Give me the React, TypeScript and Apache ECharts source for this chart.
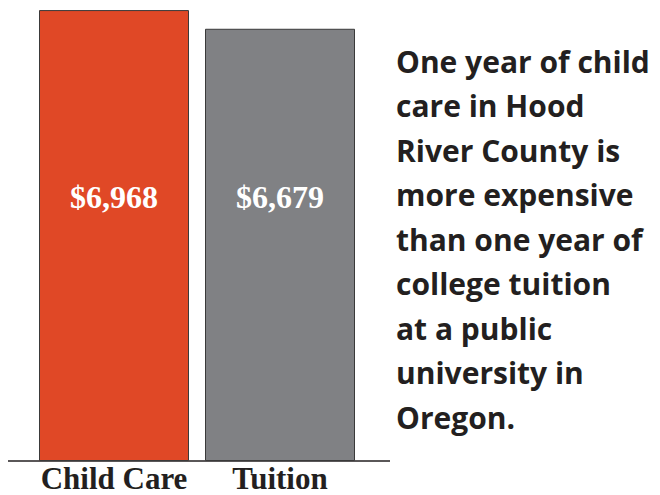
import React, { useEffect, useRef } from "react";
import * as echarts from "echarts";

const categories = ["Child Care", "Tuition"];
const values = [6968, 6679];
const valueLabels = ["$6,968", "$6,679"];
const barColors = ["#E04826", "#808184"];
const noteLines = [
  "One year of child",
  "care in Hood",
  "River County is",
  "more expensive",
  "than one year of",
  "college tuition",
  "at a public",
  "university in",
  "Oregon.",
];

export default function App() {
  const ref = useRef<HTMLDivElement>(null);
  useEffect(() => {
    const chart = echarts.init(ref.current!, undefined, { renderer: "svg" });
    chart.setOption({
      animation: false,
      grid: { left: 31, right: 297, top: 8, bottom: 34 },
      xAxis: {
        type: "category",
        data: categories,
        axisLine: { show: false },
        axisTick: { show: false },
        axisLabel: {
          interval: 0,
          margin: 3,
          color: "#231f20",
          fontFamily: "Liberation Serif",
          fontWeight: "bold",
          fontSize: 31,
          lineHeight: 28,
        },
      },
      yAxis: {
        type: "value",
        min: 0,
        max: 7000,
        show: false,
        splitLine: { show: false },
      },
      series: [
        {
          type: "bar",
          barWidth: 150,
          data: values.map((v, i) => ({
            value: v,
            itemStyle: { color: barColors[i], borderColor: "#3a3a3a", borderWidth: 1 },
          })),
          label: {
            show: true,
            position: "insideBottom",
            distance: 248,
            formatter: (p: any) => valueLabels[p.dataIndex],
            color: "#ffffff",
            fontFamily: "Liberation Serif",
            fontWeight: "bold",
            fontSize: 32,
          },
        },
      ],
      graphic: [
        {
          type: "line",
          shape: { x1: 8, y1: 461, x2: 390, y2: 461 },
          style: { stroke: "#231f20", lineWidth: 1.5 },
        },
        {
          type: "text",
          x: 396,
          y: 39,
          style: {
            text: noteLines.join("\n"),
            fill: "#231f20",
            font: "bold 30px 'Open Sans'",
            lineHeight: 44.5,
            textVerticalAlign: "top",
          },
        },
      ],
    });
    return () => chart.dispose();
  }, []);
  return <div ref={ref} style={{ width: 660, height: 495, position: "absolute", left: 0, top: 0 }} />;
}
